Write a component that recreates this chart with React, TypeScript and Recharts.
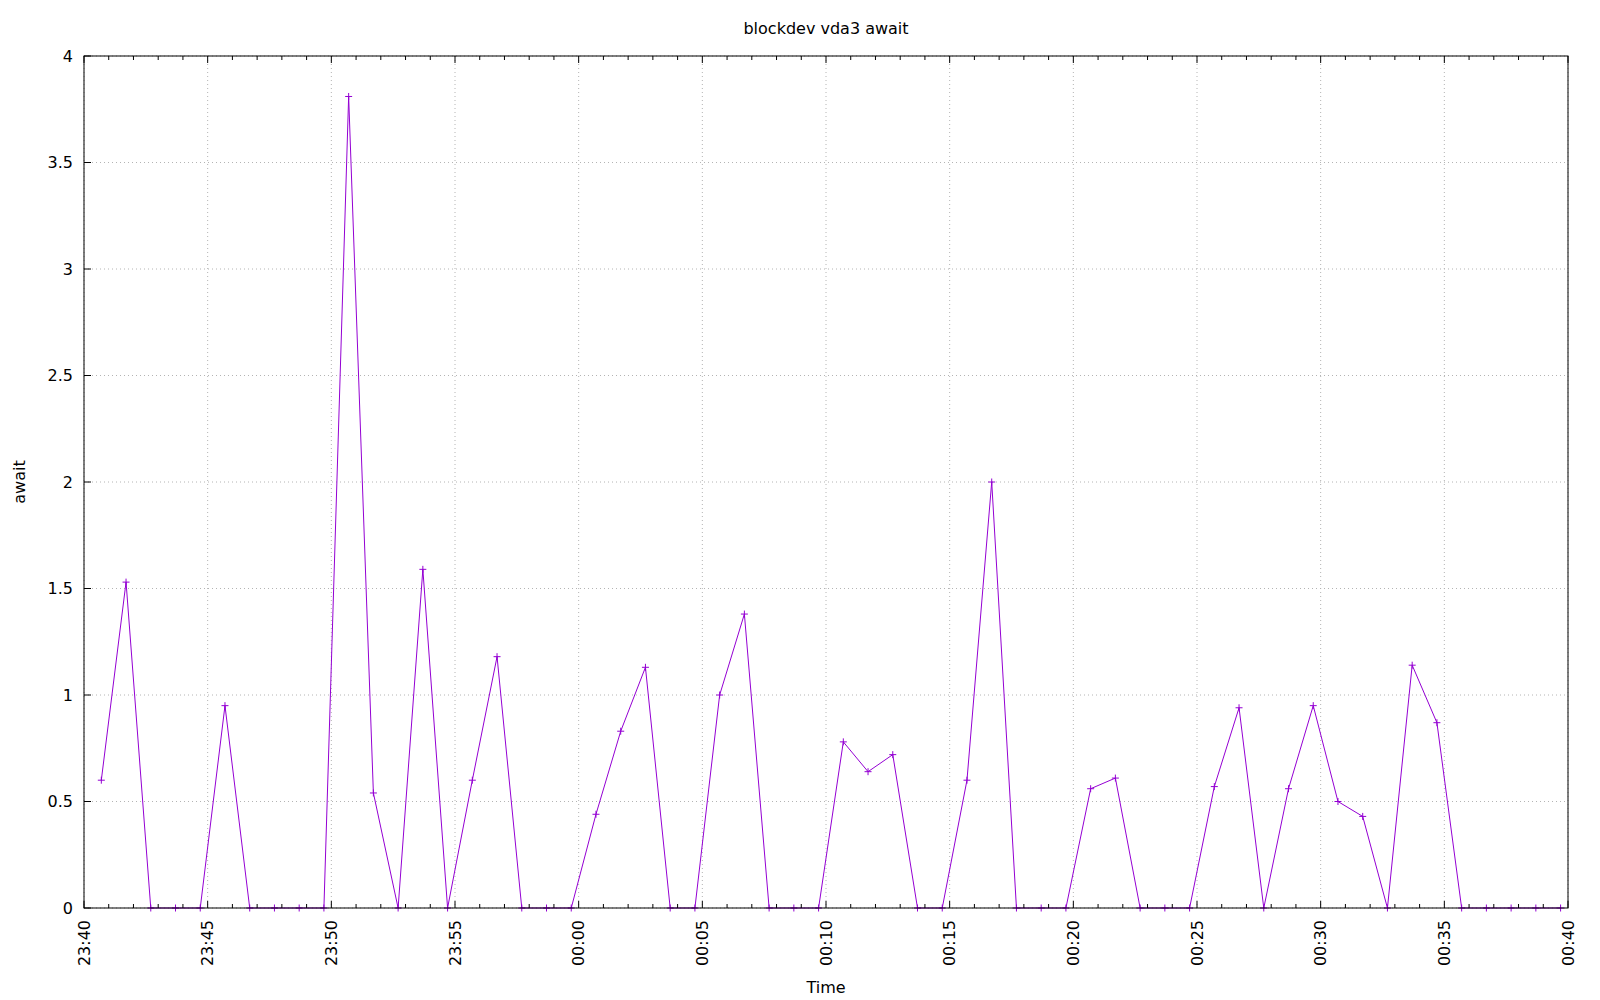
import { CartesianGrid, Line, LineChart, XAxis, YAxis } from 'recharts';

// one sample per minute, taken at about hh:mm:42
const MINUTES = [
  '23:40', '23:41', '23:42', '23:43', '23:44', '23:45', '23:46', '23:47', '23:48', '23:49',
  '23:50', '23:51', '23:52', '23:53', '23:54', '23:55', '23:56', '23:57', '23:58', '23:59',
  '00:00', '00:01', '00:02', '00:03', '00:04', '00:05', '00:06', '00:07', '00:08', '00:09',
  '00:10', '00:11', '00:12', '00:13', '00:14', '00:15', '00:16', '00:17', '00:18', '00:19',
  '00:20', '00:21', '00:22', '00:23', '00:24', '00:25', '00:26', '00:27', '00:28', '00:29',
  '00:30', '00:31', '00:32', '00:33', '00:34', '00:35', '00:36', '00:37', '00:38', '00:39',
];
const SAMPLE_SECOND = 42;

const AWAIT = [
  0.6, 1.53, 0, 0, 0, 0.95, 0, 0, 0, 0,
  3.81, 0.54, 0, 1.59, 0, 0.6, 1.18, 0, 0, 0,
  0.44, 0.83, 1.13, 0, 0, 1.0, 1.38, 0, 0, 0,
  0.78, 0.64, 0.72, 0, 0, 0.6, 2.0, 0, 0, 0,
  0.56, 0.61, 0, 0, 0, 0.57, 0.94, 0, 0.56, 0.95,
  0.5, 0.43, 0, 1.14, 0.87, 0, 0, 0, 0, 0,
];

const X_TICK_LABELS = [
  '23:40', '23:45', '23:50', '23:55', '00:00', '00:05', '00:10',
  '00:15', '00:20', '00:25', '00:30', '00:35', '00:40',
];
const Y_TICKS = [0, 0.5, 1, 1.5, 2, 2.5, 3, 3.5, 4];

const WIDTH = 1600;
const HEIGHT = 1000;
const TOP = 56;
const BOTTOM = 908;
const LEFT = 84;
const RIGHT = 1568;

const FONT = '"DejaVu Sans", sans-serif';
const FONT_SIZE = 16;
const PURPLE = '#9400d3';

// seconds since 23:40:00, rolling over midnight
function toSeconds(hhmm: string, sec = 0) {
  const [h, m] = hhmm.split(':').map(Number);
  let s = h * 3600 + m * 60 + sec;
  if (h < 12) s += 86400;
  return s - (23 * 3600 + 40 * 60);
}

const data = MINUTES.map((m, i) => ({ t: toSeconds(m, SAMPLE_SECOND), v: AWAIT[i] }));
const majorTicks = X_TICK_LABELS.map((l) => toSeconds(l));
const tickLabel = new Map(X_TICK_LABELS.map((l) => [toSeconds(l), l]));
const minorTicks = Array.from({ length: 61 }, (_, i) => i * 60);

// bottom axis: one tick per minute, long + label every 5 minutes; also the top minor ticks
const BottomTick = (props: any) => {
  const { x, payload } = props;
  const label = tickLabel.get(payload.value);
  const ly = BOTTOM + 12;
  if (!label) {
    return (
      <g>
        <line x1={x} x2={x} y1={BOTTOM} y2={BOTTOM - 4} stroke="#000" />
        <line x1={x} x2={x} y1={TOP} y2={TOP + 4} stroke="#000" />
      </g>
    );
  }
  return (
    <g>
      <line x1={x} x2={x} y1={BOTTOM} y2={BOTTOM - 7} stroke="#000" />
      <text
        x={x}
        y={ly}
        transform={`rotate(-90 ${x} ${ly})`}
        textAnchor="end"
        dominantBaseline="central"
        fontFamily={FONT}
        fontSize={FONT_SIZE}
        fill="#000"
      >
        {label}
      </text>
    </g>
  );
};

const TopTick = (props: any) => (
  <line x1={props.x} x2={props.x} y1={TOP} y2={TOP + 7} stroke="#000" />
);

const LeftTick = (props: any) => {
  const { y, payload } = props;
  return (
    <g>
      <line x1={LEFT} x2={LEFT + 7} y1={y} y2={y} stroke="#000" />
      <text
        x={LEFT - 11}
        y={y}
        textAnchor="end"
        dominantBaseline="central"
        fontFamily={FONT}
        fontSize={FONT_SIZE}
        fill="#000"
      >
        {String(payload.value)}
      </text>
    </g>
  );
};

const RightTick = (props: any) => (
  <line x1={RIGHT} x2={RIGHT - 7} y1={props.y} y2={props.y} stroke="#000" />
);

const PlusDot = (props: any) => {
  const { cx, cy, index } = props;
  if (cx == null || cy == null) return null;
  return (
    <path
      key={index}
      d={`M${cx - 3.5},${cy}H${cx + 3.5}M${cx},${cy - 3.5}V${cy + 3.5}`}
      stroke={PURPLE}
      strokeWidth={1}
      fill="none"
    />
  );
};

export default function App() {
  return (
    <div style={{ position: 'absolute', left: 0, top: 0, width: WIDTH, height: HEIGHT, background: '#fff' }}>
      <LineChart width={WIDTH} height={HEIGHT} data={data} margin={{ top: 0, right: 0, bottom: 0, left: 0 }}>
        <CartesianGrid xAxisId="top" stroke="#b4b4b4" strokeDasharray="1 3" />
        <XAxis
          dataKey="t"
          type="number"
          domain={[0, 3600]}
          ticks={minorTicks}
          interval={0}
          height={HEIGHT - BOTTOM}
          axisLine={false}
          tickLine={false}
          tick={<BottomTick />}
        />
        <XAxis
          xAxisId="top"
          orientation="top"
          dataKey="t"
          type="number"
          domain={[0, 3600]}
          ticks={majorTicks}
          interval={0}
          height={TOP}
          axisLine={false}
          tickLine={false}
          tick={<TopTick />}
        />
        <YAxis
          type="number"
          domain={[0, 4]}
          ticks={Y_TICKS}
          interval={0}
          width={LEFT}
          axisLine={false}
          tickLine={false}
          tick={<LeftTick />}
        />
        <YAxis
          yAxisId="right"
          orientation="right"
          type="number"
          domain={[0, 4]}
          ticks={Y_TICKS}
          interval={0}
          width={WIDTH - RIGHT}
          axisLine={false}
          tickLine={false}
          tick={<RightTick />}
        />
        <Line
          type="linear"
          dataKey="v"
          stroke={PURPLE}
          strokeWidth={1}
          dot={<PlusDot />}
          activeDot={false}
          isAnimationActive={false}
        />
      </LineChart>
      <svg
        width={WIDTH}
        height={HEIGHT}
        style={{ position: 'absolute', left: 0, top: 0, pointerEvents: 'none' }}
      >
        <rect x={LEFT} y={TOP} width={RIGHT - LEFT} height={BOTTOM - TOP} fill="none" stroke="#000" strokeWidth={1} />
        <text
          x={(LEFT + RIGHT) / 2}
          y={28}
          textAnchor="middle"
          dominantBaseline="central"
          fontFamily={FONT}
          fontSize={FONT_SIZE}
        >
          blockdev vda3 await
        </text>
        <text
          x={(LEFT + RIGHT) / 2}
          y={987}
          textAnchor="middle"
          dominantBaseline="central"
          fontFamily={FONT}
          fontSize={FONT_SIZE}
        >
          Time
        </text>
        <text
          x={19}
          y={(TOP + BOTTOM) / 2}
          transform={`rotate(-90 19 ${(TOP + BOTTOM) / 2})`}
          textAnchor="middle"
          dominantBaseline="central"
          fontFamily={FONT}
          fontSize={FONT_SIZE}
        >
          await
        </text>
      </svg>
    </div>
  );
}
